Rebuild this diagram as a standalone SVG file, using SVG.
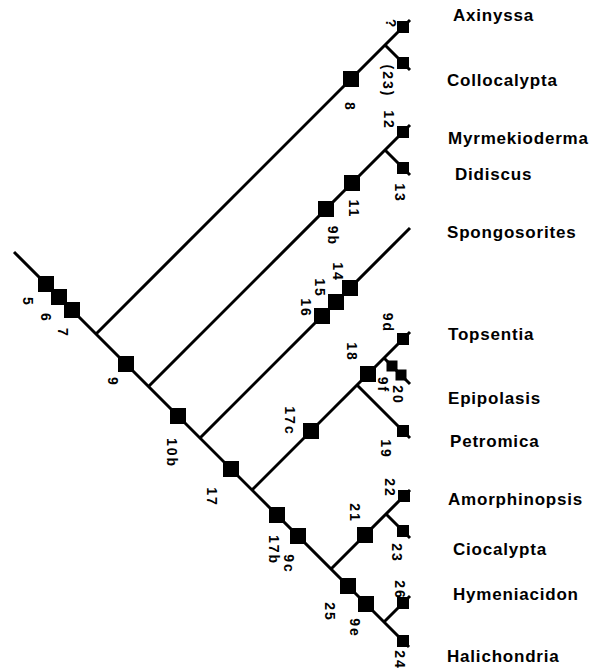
<svg xmlns="http://www.w3.org/2000/svg" xmlns:xlink="http://www.w3.org/1999/xlink" width="600" height="669" viewBox="0 0 600 669">
<style>
.br{stroke:#000;stroke-width:3;fill:none;stroke-linecap:butt}
.tx{font-family:"Liberation Sans",Arial,sans-serif;font-weight:bold;font-size:17px;letter-spacing:0.8px;fill:#000}
.lb{font-family:"Liberation Sans",Arial,sans-serif;font-weight:bold;font-size:14px;letter-spacing:2px;fill:#000;text-anchor:middle}
</style>
<defs>
<rect id="sq" x="-8" y="-8" width="16" height="16" fill="#000"/>
<rect id="ts" x="-6" y="-6" width="12" height="12" fill="#000"/>
<rect id="ss" x="-5.5" y="-5.5" width="11" height="11" fill="#000"/>
</defs>
<rect width="600" height="669" fill="#fff"/>
<g id="connectors" class="br">
<path d="M14,252 L409,647"/>
<path d="M96,334 L410,20"/>
<path d="M385,45 L410,70"/>
<path d="M148.5,386.5 L410,125"/>
<path d="M385,150 L410,175"/>
<path d="M200,438 L410,228"/>
<path d="M252,490 L410,332"/>
<path d="M384,358 L410,384"/>
<path d="M357,385 L410,438"/>
<path d="M331,569 L410,490"/>
<path d="M386,514 L410,538"/>
<path d="M384,622 L410,596"/>
</g>
<g id="characters">
<use href="#sq" x="46" y="284"/>
<use href="#sq" x="59" y="297"/>
<use href="#sq" x="72" y="310"/>
<use href="#sq" x="126" y="364"/>
<use href="#sq" x="178" y="416"/>
<use href="#sq" x="231" y="469"/>
<use href="#sq" x="277" y="515"/>
<use href="#sq" x="298" y="536"/>
<use href="#sq" x="348" y="586"/>
<use href="#sq" x="366" y="604"/>
<use href="#sq" x="351" y="79"/>
<use href="#sq" x="326" y="209"/>
<use href="#sq" x="352" y="183"/>
<use href="#sq" x="322" y="316"/>
<use href="#sq" x="336" y="302"/>
<use href="#sq" x="350" y="288"/>
<use href="#sq" x="311" y="431"/>
<use href="#sq" x="368" y="374"/>
<use href="#sq" x="365" y="535"/>
<use href="#ts" x="403" y="27"/>
<use href="#ts" x="403" y="63"/>
<use href="#ts" x="403" y="132"/>
<use href="#ts" x="403" y="168"/>
<use href="#ts" x="403" y="339"/>
<use href="#ss" x="392" y="366"/>
<use href="#ss" x="401" y="375"/>
<use href="#ts" x="403" y="431"/>
<use href="#ts" x="404" y="496"/>
<use href="#ts" x="403" y="531"/>
<use href="#ts" x="403" y="603"/>
<use href="#ts" x="403" y="641"/>
</g>
<g id="character-labels" class="lb">
<text transform="translate(391,24) rotate(90)" dy="0.35em">?</text>
<text transform="translate(388,81) rotate(90)" dy="0.35em">(23)</text>
<text transform="translate(389,120) rotate(90)" dy="0.35em">12</text>
<text transform="translate(350,107) rotate(90)" dy="0.35em">8</text>
<text transform="translate(400,193) rotate(90)" dy="0.35em">13</text>
<text transform="translate(354,209) rotate(90)" dy="0.35em">11</text>
<text transform="translate(333,236) rotate(90)" dy="0.35em">9b</text>
<text transform="translate(338,272) rotate(90)" dy="0.35em">14</text>
<text transform="translate(320,288) rotate(90)" dy="0.35em">15</text>
<text transform="translate(306,308) rotate(90)" dy="0.35em">16</text>
<text transform="translate(388,323) rotate(90)" dy="0.35em">9d</text>
<text transform="translate(352,352) rotate(90)" dy="0.35em">18</text>
<text transform="translate(383,385) rotate(90)" dy="0.35em">9f</text>
<text transform="translate(398,395) rotate(90)" dy="0.35em">20</text>
<text transform="translate(290,421) rotate(90)" dy="0.35em">17c</text>
<text transform="translate(386,449) rotate(90)" dy="0.35em">19</text>
<text transform="translate(28,302) rotate(90)" dy="0.35em">5</text>
<text transform="translate(46,318) rotate(90)" dy="0.35em">6</text>
<text transform="translate(63,333) rotate(90)" dy="0.35em">7</text>
<text transform="translate(113,382) rotate(90)" dy="0.35em">9</text>
<text transform="translate(172,453) rotate(90)" dy="0.35em">10b</text>
<text transform="translate(212,497) rotate(90)" dy="0.35em">17</text>
<text transform="translate(274,550) rotate(90)" dy="0.35em">17b</text>
<text transform="translate(289,564) rotate(90)" dy="0.35em">9c</text>
<text transform="translate(355,513) rotate(90)" dy="0.35em">21</text>
<text transform="translate(390,488) rotate(90)" dy="0.35em">22</text>
<text transform="translate(397,553) rotate(90)" dy="0.35em">23</text>
<text transform="translate(330,612) rotate(90)" dy="0.35em">25</text>
<text transform="translate(355,628) rotate(90)" dy="0.35em">9e</text>
<text transform="translate(400,590) rotate(90)" dy="0.35em">26</text>
<text transform="translate(400,660) rotate(90)" dy="0.35em">24</text>
</g>
<g id="taxa" class="tx">
<g id="axinyssa"><text x="453" y="21">Axinyssa</text></g>
<g id="collocalypta"><text x="447" y="86">Collocalypta</text></g>
<g id="myrmekioderma"><text x="448" y="144">Myrmekioderma</text></g>
<g id="didiscus"><text x="455" y="180">Didiscus</text></g>
<g id="spongosorites"><text x="447" y="238">Spongosorites</text></g>
<g id="topsentia"><text x="448" y="340">Topsentia</text></g>
<g id="epipolasis"><text x="448" y="404">Epipolasis</text></g>
<g id="petromica"><text x="450" y="447">Petromica</text></g>
<g id="amorphinopsis"><text x="448" y="505">Amorphinopsis</text></g>
<g id="ciocalypta"><text x="453" y="555">Ciocalypta</text></g>
<g id="hymeniacidon"><text x="453" y="600">Hymeniacidon</text></g>
<g id="halichondria"><text x="447" y="662">Halichondria</text></g>
</g>
</svg>
